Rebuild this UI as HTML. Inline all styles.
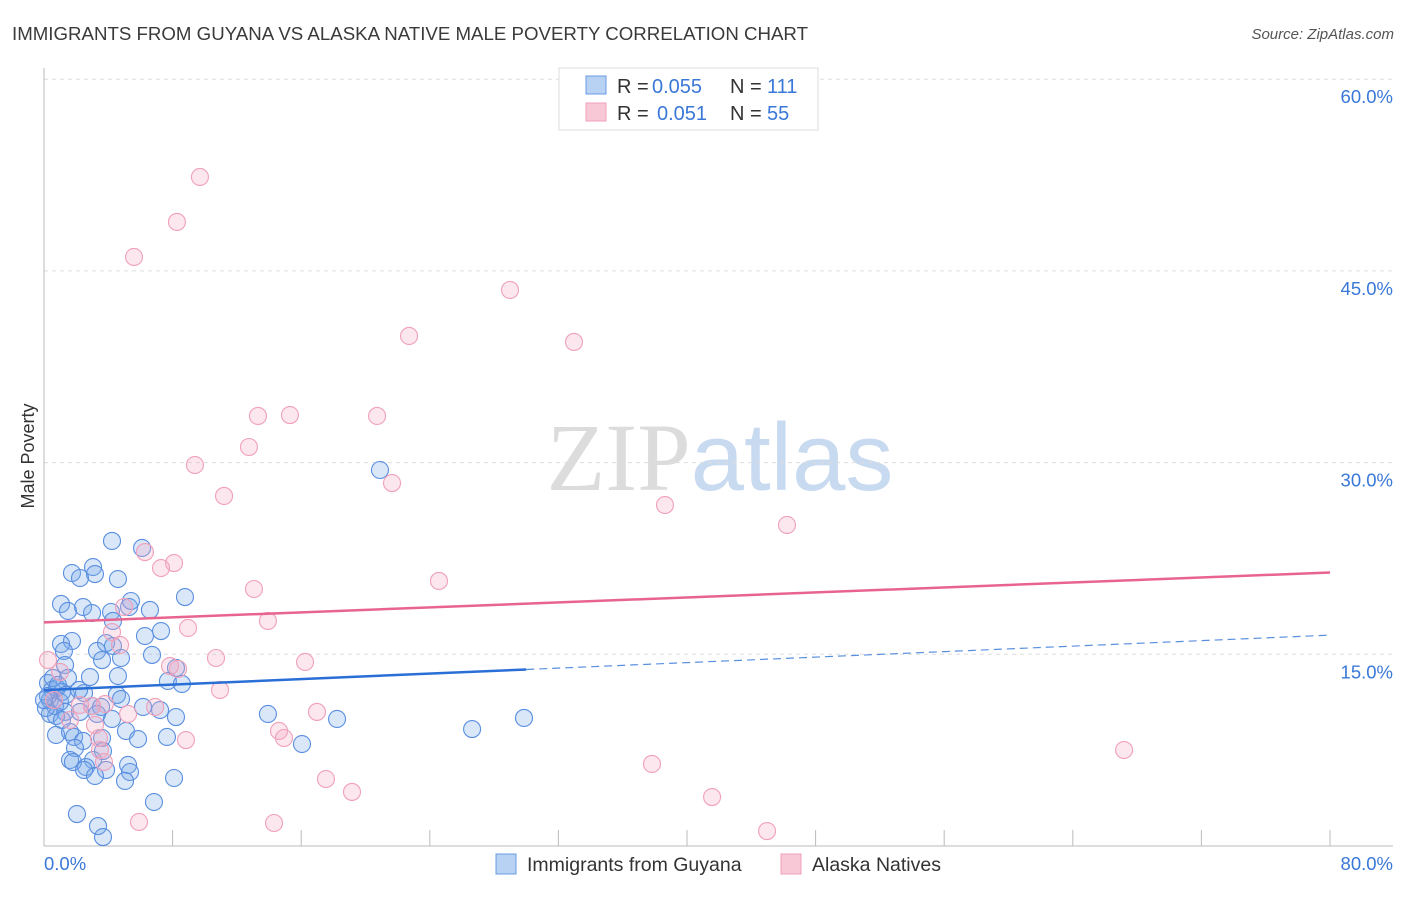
<!DOCTYPE html>
<html><head><meta charset="utf-8"><style>
body{margin:0;background:#fff;font-family:"Liberation Sans",sans-serif}
svg text{font-family:"Liberation Sans",sans-serif}
</style></head><body>
<svg id="chart" width="1406" height="892" xmlns="http://www.w3.org/2000/svg">
<text x="12" y="40" font-size="18" fill="#3a3a3a" textLength="796" lengthAdjust="spacingAndGlyphs">IMMIGRANTS FROM GUYANA VS ALASKA NATIVE MALE POVERTY CORRELATION CHART</text>
<text x="1394" y="39" font-size="15" fill="#555" text-anchor="end" font-style="italic">Source: ZipAtlas.com</text>
<text x="720" y="490" font-size="96" text-anchor="middle"><tspan fill="#dcdcdc" font-family="Liberation Serif">ZIP</tspan><tspan fill="#c8daf0">atlas</tspan></text>
<text transform="translate(34,456) rotate(-90)" font-size="18" fill="#333" text-anchor="middle">Male Poverty</text>
<g id="grid"></g><g id="ticks"></g><g id="pts"></g><g id="trends"></g>
<g>
<rect x="559" y="68" width="259" height="62" fill="#fff" stroke="#ddd"/>
<rect x="586" y="76" width="20" height="18" fill="#b8d2f4" stroke="#6a9be0"/>
<rect x="586" y="103" width="20" height="18" fill="#f8c8d6" stroke="#f0a0b8"/>
<text x="617" y="93" font-size="20" fill="#333">R =</text>
<text x="652" y="93" font-size="20" fill="#3a78d8">0.055</text>
<text x="730" y="93" font-size="20" fill="#333">N =</text>
<text x="767" y="93" font-size="20" fill="#3a78d8">111</text>
<text x="617" y="120" font-size="20" fill="#333">R =</text>
<text x="657" y="120" font-size="20" fill="#3a78d8">0.051</text>
<text x="730" y="120" font-size="20" fill="#333">N =</text>
<text x="767" y="120" font-size="20" fill="#3a78d8">55</text>
</g>
<g>
<rect x="496" y="854" width="20" height="20" fill="#b8d2f4" stroke="#6a9be0"/>
<text x="527" y="871" font-size="19.5" fill="#333">Immigrants from Guyana</text>
<rect x="781" y="854" width="20" height="20" fill="#f8c8d6" stroke="#f0a0b8"/>
<text x="812" y="871" font-size="19.5" fill="#333">Alaska Natives</text>
</g>
</svg>
<script>
const yTicks=[15,30,45,60];
const yTickLabels=["15.0%","30.0%","45.0%","60.0%"];
const xTicks=[8,16,24,32,40,48,56,64,72,80];
const blueX=[4.23,6.10,3.05,1.74,3.17,4.60,2.24,8.77,1.06,1.49,2.43,2.99,4.17,5.29,6.59,5.41,4.29,7.28,6.28,1.74,1.06,1.24,3.86,3.30,4.29,6.72,3.61,4.79,1.31,8.21,2.86,1.49,4.60,7.71,8.58,0.25,0.50,0.81,1.12,2.49,4.54,4.79,0.37,0.68,1.00,2.99,3.55,1.31,2.24,3.30,0.37,0.75,6.16,7.22,8.21,4.23,13.93,18.23,29.86,26.63,5.10,0.75,1.62,1.87,2.43,3.61,5.85,7.65,1.93,3.67,16.05,1.62,1.80,3.05,2.61,5.23,3.86,5.35,2.49,3.17,5.04,8.09,6.84,2.05,3.36,3.67,20.90,1.12,0.12,0.25,0.56,0.87,0.0,1.37,2.18];
const blueY=[23.87,23.32,21.83,21.36,21.28,20.89,20.97,19.48,18.94,18.39,18.70,18.23,18.31,18.70,18.47,19.17,17.61,16.82,16.43,16.04,15.81,15.26,15.88,15.26,15.65,14.95,14.55,14.71,14.16,13.93,13.22,13.15,13.30,12.91,12.68,12.75,12.21,12.36,12.05,11.97,11.82,11.50,11.42,10.95,11.27,10.95,10.88,10.49,10.49,10.33,10.33,10.17,10.88,10.64,10.09,9.94,10.33,9.94,10.02,9.15,9.00,8.69,8.92,8.53,8.22,8.45,8.37,8.53,7.67,7.43,7.98,6.73,6.57,6.73,6.18,6.34,5.95,5.79,5.95,5.48,5.09,5.32,3.44,2.50,1.56,0.70,29.42,9.86,10.80,11.74,13.15,12.60,11.42,11.82,12.21];
const pinkX=[9.70,8.27,5.60,28.99,22.71,32.97,13.31,15.30,20.72,12.75,9.39,21.65,11.20,38.63,46.22,6.28,8.09,7.28,24.57,13.06,4.98,4.23,13.93,8.96,4.73,10.70,16.24,7.84,8.34,10.95,0.25,1.00,16.98,5.23,3.79,2.99,6.91,14.62,14.93,8.83,3.42,3.48,17.54,19.16,37.82,41.56,67.19,5.91,14.31,44.98,3.73,0.62,1.62,2.24,3.17];
const pinkY=[52.35,48.83,46.09,43.51,39.91,39.44,33.65,33.72,33.65,31.22,29.81,28.40,27.39,26.68,25.12,23.00,22.14,21.75,20.74,20.11,18.70,16.74,17.61,17.06,15.73,14.71,14.40,14.08,13.85,12.21,14.55,13.62,10.49,10.33,11.11,10.95,10.88,9.00,8.45,8.29,8.45,7.51,5.24,4.23,6.42,3.83,7.51,1.88,1.80,1.17,6.57,11.42,9.86,11.03,9.47];
const blueTrend=[12.2,16.5]; const blueSolidEnd=30;
const pinkTrend=[17.5,21.4];
const NS="http://www.w3.org/2000/svg";
const X=v=>44+v*16.075, Y=v=>846-v*12.78;
function mk(t,a,p){const e=document.createElementNS(NS,t);for(const k in a)e.setAttribute(k,a[k]);p.appendChild(e);return e;}
const grid=document.getElementById('grid'),ticks=document.getElementById('ticks'),pts=document.getElementById('pts'),tr=document.getElementById('trends');
yTicks.forEach((v,i)=>{
 const l=mk('line',{x1:44,x2:1393,y1:Y(v),y2:Y(v),stroke:'#ddd','stroke-dasharray':'4,4'},grid);
 
 
 const t=mk('text',{x:1393,y:Y(v)+24,'font-size':18.5,fill:'#3a78d8','text-anchor':'end'},grid);
 t.textContent=yTickLabels[i];
 
 
});
const ya=mk('line',{x1:44,x2:44,y1:68,y2:846,stroke:'#bbb'},ticks);


const xa=mk('line',{x1:44,x2:1393,y1:846,y2:846,stroke:'#bbb'},ticks);


xTicks.forEach(v=>{const t=mk('line',{x1:X(v),x2:X(v),y1:830,y2:846,stroke:'#bbb'},ticks);
 
 });
const x0=mk('text',{x:44,y:870,'font-size':18.5,fill:'#3a78d8'},ticks);x0.textContent='0.0%';


const x1=mk('text',{x:1393,y:870,'font-size':18.5,fill:'#3a78d8','text-anchor':'end'},ticks);x1.textContent='80.0%';


blueX.forEach((v,i)=>{const c=mk('circle',{cx:X(v),cy:Y(blueY[i]),r:8.5,fill:'rgba(120,168,235,0.28)',stroke:'#5a8fe0','stroke-width':1.1},pts);
 
 });
pinkX.forEach((v,i)=>{const c=mk('circle',{cx:X(v),cy:Y(pinkY[i]),r:8.5,fill:'rgba(245,170,195,0.28)',stroke:'#f0a0b8','stroke-width':1.1},pts);
 
 });
const bAt=x=>blueTrend[0]+(blueTrend[1]-blueTrend[0])*x/80;
const b1=mk('line',{x1:X(0),y1:Y(bAt(0)),x2:X(blueSolidEnd),y2:Y(bAt(blueSolidEnd)),stroke:'#2a6fd6','stroke-width':2.5},tr);


const b2=mk('line',{x1:X(blueSolidEnd),y1:Y(bAt(blueSolidEnd)),x2:X(80),y2:Y(bAt(80)),stroke:'#5a8fe0','stroke-width':1.2,'stroke-dasharray':'8,5'},tr);


const p1=mk('line',{x1:X(0),y1:Y(pinkTrend[0]),x2:X(80),y2:Y(pinkTrend[1]),stroke:'#e8648e','stroke-width':2.5},tr);


</script>
</body></html>
